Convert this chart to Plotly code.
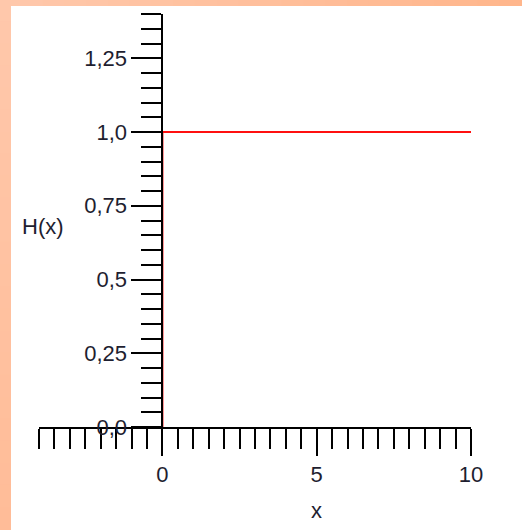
import plotly.graph_objects as go

# Heaviside step H(x); for x<0 it is 0 and lies under the x axis
x_vals = [0, 0, 10]
h_vals = [0, 1, 1]

y_tickvals = [0, 0.25, 0.5, 0.75, 1.0, 1.25]
y_ticktext = ["0,0", "0,25", "0,5", "0,75", "1,0", "1,25"]
x_tickvals = [0, 5, 10]
x_ticktext = ["0", "5", "10"]

X_RANGE = [-4, 10]
Y_RANGE = [0, 1.4]

W, H = 522, 530
ML, MR, MT, MB = 39, 51, 14, 103
pw, ph = W - ML - MR, H - MT - MB

FONT = "Liberation Sans, Arial, sans-serif"
TXT = "#1e1e30"
FS = 22


def px_x(p):
    return (p - ML) / pw


def px_y(p):
    return (MT + ph - p) / ph


def mix(c1, c2, t):
    a = [int(c1[i:i + 2], 16) for i in (1, 3, 5)]
    b = [int(c2[i:i + 2], 16) for i in (1, 3, 5)]
    return "#%02x%02x%02x" % tuple(round(a[k] + (b[k] - a[k]) * t) for k in range(3))


fig = go.Figure()
fig.add_trace(go.Scatter(x=x_vals, y=h_vals, mode="lines",
                         line=dict(color="#ff1010", width=2),
                         hoverinfo="skip", showlegend=False))

ypos = (0 - X_RANGE[0]) / (X_RANGE[1] - X_RANGE[0])

shapes = []
# orange frame with a soft gradient
N = 24
for i in range(N):
    shapes.append(dict(type="rect", xref="paper", yref="paper",
                       x0=px_x(W * i / N - 1), x1=px_x(W * (i + 1) / N + 1),
                       y0=px_y(7), y1=px_y(-2),
                       fillcolor=mix("#ffc8ab", "#ffb68c", i / (N - 1)),
                       line=dict(width=0), layer="below"))
for i in range(N):
    shapes.append(dict(type="rect", xref="paper", yref="paper",
                       x0=px_x(-2), x1=px_x(12),
                       y0=px_y(H * (i + 1) / N + 1), y1=px_y(H * i / N - 1),
                       fillcolor=mix("#ffc8ab", "#ffbc98", i / (N - 1)),
                       line=dict(width=0), layer="below"))
shapes.append(dict(type="rect", xref="paper", yref="paper",
                   x0=px_x(11), x1=px_x(W + 5), y0=px_y(H + 5), y1=px_y(6),
                   fillcolor="white", line=dict(width=0), layer="below"))

fig.update_layout(
    width=W, height=H,
    margin=dict(l=ML, r=MR, t=MT, b=MB, pad=0),
    paper_bgcolor="#ffc09e",
    plot_bgcolor="rgba(0,0,0,0)",
    font=dict(family=FONT, size=FS, color=TXT),
    xaxis=dict(range=X_RANGE, domain=[0, 1], showgrid=False, zeroline=False,
               showline=True, linecolor="black", linewidth=2,
               tickmode="array", tickvals=x_tickvals, ticktext=x_ticktext,
               ticks="outside", ticklen=27, tickwidth=2, tickcolor="black",
               minor=dict(tickmode="linear", tick0=0, dtick=0.5, ticks="outside",
                          ticklen=20, tickwidth=2, tickcolor="black", showgrid=False),
               anchor="y", fixedrange=True),
    yaxis=dict(range=Y_RANGE, showgrid=False, zeroline=False,
               showline=True, linecolor="black", linewidth=2,
               tickmode="array", tickvals=y_tickvals, ticktext=y_ticktext,
               ticks="outside", ticklen=30, tickwidth=2, tickcolor="black",
               minor=dict(tickmode="linear", tick0=0, dtick=0.05, ticks="outside",
                          ticklen=20, tickwidth=2, tickcolor="black", showgrid=False),
               anchor="free", position=ypos, side="left", fixedrange=True),
    shapes=shapes,
    annotations=[
        dict(text="x", xref="x", yref="paper", x=5, y=px_y(511),
             showarrow=False, xanchor="center", yanchor="middle",
             font=dict(size=FS, color=TXT)),
        dict(text="H(x)", xref="paper", yref="paper", x=px_x(20),
             y=px_y(226), showarrow=False, xanchor="left",
             yanchor="middle", font=dict(size=FS, color=TXT)),
    ],
)

fig.write_html(
    "out.html",
    config={"displayModeBar": False},
    post_script="document.body.style.margin='0';document.body.style.padding='0';"
                "document.body.style.background='#ffc09e';",
)
